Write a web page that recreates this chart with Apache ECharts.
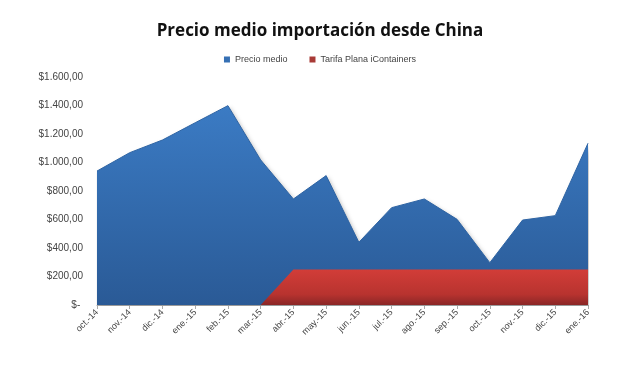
<!DOCTYPE html>
<html><head><meta charset="utf-8">
<script src="https://cdn.jsdelivr.net/npm/echarts@6/dist/echarts.min.js"></script>
<style>html,body{margin:0;padding:0;background:#fff}#c{width:640px;height:375px}</style>
</head><body><div id="c"></div>
<script>
var categories = ["oct.-14","nov.-14","dic.-14","ene.-15","feb.-15","mar.-15","abr.-15","may.-15","jun.-15","jul.-15","ago.-15","sep.-15","oct.-15","nov.-15","dic.-15","ene.-16"];
var precioMedio = [940,1069,1158,1279,1399,1018,744,908,440,683,744,601,297,596,627,1135];
var tarifaPlana = [0,0,0,0,0,0,250,250,250,250,250,250,250,250,250,250];
var yTicks = [0,200,400,600,800,1000,1200,1400,1600];

function fmt(v){
  if(v===0) return "$- ";
  var s = String(v);
  if(v>=1000) s = s.slice(0,s.length-3)+"."+s.slice(-3);
  return "$"+s+",00";
}
var chart = echarts.init(document.getElementById('c'));
chart.setOption({
  animation:false,
  backgroundColor:'#fff',
  title:{text:'Precio medio importación desde China',left:'center',top:18,
    textStyle:{fontFamily:'Open Sans',fontWeight:'bold',fontSize:17,color:'#111'}},
  legend:{top:50,left:'center',itemWidth:6,itemHeight:6,itemGap:22,icon:'rect',
    textStyle:{fontFamily:'Liberation Sans',fontSize:9,color:'#444'},
    data:['Precio medio','Tarifa Plana iContainers']},
  grid:{left:97,right:52,top:77,bottom:70},
  xAxis:{type:'category',data:categories,boundaryGap:false,
    axisLine:{lineStyle:{color:'#aaa'}},
    axisTick:{show:true,length:4,lineStyle:{color:'#aaa'}},
    axisLabel:{rotate:45,fontFamily:'Liberation Sans',fontSize:9,color:'#444',margin:6}},
  yAxis:{type:'value',min:0,max:1600,interval:200,
    axisLine:{show:false},axisTick:{show:false},splitLine:{show:false},
    axisLabel:{formatter:fmt,fontFamily:'Liberation Sans',fontSize:10,color:'#444',margin:14}},
  series:[
    {name:'Precio medio',type:'line',data:precioMedio,symbol:'none',
     lineStyle:{width:1,color:'#2e64a4'},
     itemStyle:{color:'#3670b4'},
     areaStyle:{opacity:1,color:new echarts.graphic.LinearGradient(0,0,0,1,[{offset:0,color:'#3b7bc4'},{offset:1,color:'#2a5a96'}]),
       shadowColor:'rgba(0,0,0,0.25)',shadowBlur:4,shadowOffsetX:2,shadowOffsetY:2}},
    {name:'Tarifa Plana iContainers',type:'line',data:tarifaPlana,symbol:'none',
     lineStyle:{width:0},
     itemStyle:{color:'#a83a36'},
     areaStyle:{opacity:1,color:new echarts.graphic.LinearGradient(0,0,0,1,[{offset:0,color:'#d23d38'},{offset:0.7,color:'#b8332f'},{offset:1,color:'#8a2626'}])}}
  ]
});
</script></body></html>
